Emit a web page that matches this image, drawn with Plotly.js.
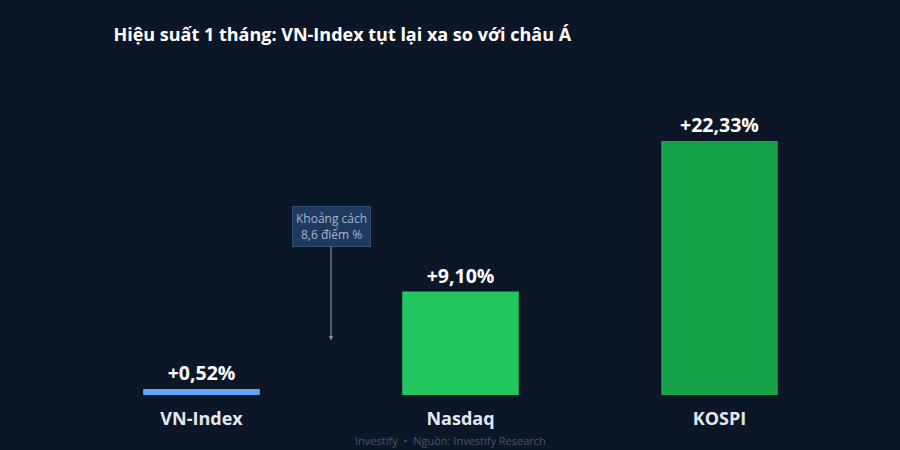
<!DOCTYPE html>
<html>
<head>
<meta charset="utf-8">
<script src="https://cdn.plot.ly/plotly-3.0.1.min.js"></script>
<style>
  html, body { margin: 0; padding: 0; background: #0b1727; }
  #plot { width: 900px; height: 450px; }
</style>
</head>
<body>
<div id="plot"></div>
<script>
// du lieu hieu suat 1 thang
var chiSo = ["VN-Index", "Nasdaq", "KOSPI"];
var hieuSuat = [0.52, 9.10, 22.33];
var nhan = ["+0,52%", "+9,10%", "+22,33%"];
var mauCot = ["#60a5fa", "#22c55e", "#16a34a"];

var trace = {
  x: chiSo,
  y: hieuSuat,
  type: 'bar',
  width: 0.45,
  marker: { color: mauCot },
  text: nhan,
  textposition: 'outside',
  cliponaxis: false,
  textfont: { family: 'Open Sans', size: 19.5, color: '#ffffff', weight: 700 },
  hoverinfo: 'none'
};

var layout = {
  width: 900,
  height: 450,
  paper_bgcolor: '#0b1727',
  plot_bgcolor: '#0b1727',
  margin: { l: 72, r: 51, t: 80, b: 55 },
  showlegend: false,
  font: { family: 'Open Sans', color: '#e2e8f0' },
  title: {
    text: '<b>Hiệu suất 1 tháng: VN-Index tụt lại xa so với châu Á</b>',
    font: { family: 'Open Sans', size: 18, color: '#ffffff' },
    x: 0.126, xref: 'container', xanchor: 'left',
    y: 0.923, yref: 'container', yanchor: 'middle'
  },
  xaxis: {
    showgrid: false, zeroline: false, showline: false,
    ticks: '', ticklabelstandoff: 11,
    tickfont: { family: 'Open Sans', size: 18, color: '#e2e8f0', weight: 700 },
    fixedrange: true
  },
  yaxis: {
    range: [0, 27.7], visible: false, showgrid: false, zeroline: false,
    fixedrange: true
  },
  annotations: [
    {
      x: 0.5, y: 4.81, xref: 'x', yref: 'y',
      text: 'Khoảng cách<br>8,6 điểm %',
      showarrow: true, arrowhead: 2, arrowsize: 0.8, arrowwidth: 1,
      arrowcolor: '#94a3b8',
      ax: 0, ay: -114, axref: 'pixel', ayref: 'pixel',
      font: { family: 'Open Sans', size: 12, color: '#a5b4c8' },
      bgcolor: '#1e3a5f', bordercolor: '#2f4f75', borderwidth: 1, borderpad: 3
    },
    {
      x: 0.4865, y: -0.146, xref: 'paper', yref: 'paper',
      xanchor: 'center', yanchor: 'middle',
      text: 'Investify  •  Nguồn: Investify Research',
      showarrow: false,
      font: { family: 'Open Sans', size: 11, color: '#475569' }
    }
  ]
};

Plotly.newPlot('plot', [trace], layout, { displayModeBar: false, staticPlot: true });
</script>
</body>
</html>
